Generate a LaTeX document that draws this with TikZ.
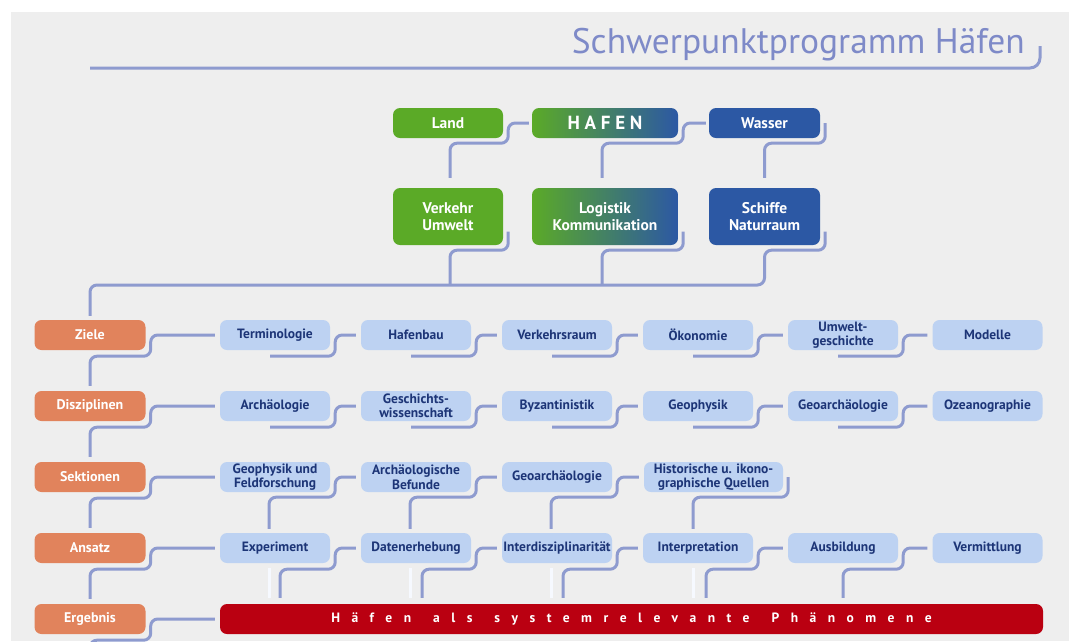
\documentclass[tikz,border=0pt]{standalone}
\usepackage{fontspec}
\setmainfont{PT Sans}
\usepackage{tikz}
\usetikzlibrary{calc}
\usetikzlibrary{positioning}
\definecolor{panel}{HTML}{EEEEEE}
\definecolor{linkcol}{HTML}{8E9BCF}
\definecolor{titlecol}{HTML}{7E8AC8}
\definecolor{orangebox}{HTML}{E1835C}
\definecolor{lightbox}{HTML}{BDD2F2}
\definecolor{navytext}{HTML}{1D3577}
\definecolor{greenbox}{HTML}{5BAA27}
\definecolor{bluebox}{HTML}{2C58A4}
\definecolor{redbar}{HTML}{BA0011}
\definecolor{faint}{HTML}{F6F9FF}
\newcommand{\rowlink}[2]{\draw[Links] ($(#1.south)+(-5,6)$) -- ($(#1.south east)+(5,6)$) -- ($(#1.east)+(5,0)$) -- ($(#2.west)+(-5,0)$)}
\newcommand{\sidelink}[3]{\draw[Links] ($(#2.north)+(0,-5)$) -- ($(#1.south)+(0,6)$) -- ($(#1.south east)+(5,6)$) -- ($(#1.east)+(5,0)$) -- ($(#3.west)+(-5,0)$)}

\begin{document}
\begin{tikzpicture}[
x=1pt,y=-1pt,
RowLabel/.style={fill=orangebox,text=white,rounded corners=7pt,minimum width=111pt,minimum height=30pt,inner sep=0pt,font=\bfseries\fontsize{14}{16}\selectfont},
Topic/.style={fill=lightbox,text=navytext,rounded corners=7pt,minimum width=110pt,minimum height=30pt,inner sep=0pt,align=center,font=\bfseries\fontsize{13.5}{14.5}\selectfont},
HeadBox/.style={text=white,rounded corners=7pt,minimum width=110pt,minimum height=30pt,inner sep=0pt,align=center,font=\bfseries\fontsize{15.5}{17}\selectfont},
Links/.style={draw=linkcol,line width=3pt,rounded corners=7pt},
FaintLinks/.style={draw=faint,line width=3pt}
]
\useasboundingbox (0,0) rectangle (1074,641);
\clip (0,0) rectangle (1074,641);
\fill[white] (0,0) rectangle (1074,641);
\fill[panel] (11,12) rectangle (1069,641);

\node[anchor=base east,inner sep=0pt,text=titlecol,font=\fontsize{35.5}{40}\selectfont] (title) at (1025,53) {Schwerpunktprogramm Häfen};
\coordinate (rulestart) at (90,68);
\coordinate (ruleend) at (1040,46);
\draw[Links,rounded corners=10pt] (rulestart) -| (ruleend);

% head
\node[HeadBox,fill=greenbox] (land) at (448,123) {Land};
\node[HeadBox,left color=greenbox,right color=bluebox,minimum width=146pt,font=\bfseries\fontsize{19}{20}\selectfont\addfontfeature{LetterSpace=25}] (hafen) at (605,123) {HAFEN};
\node[HeadBox,fill=bluebox,minimum width=111pt] (wasser) at (764.5,123) {Wasser};
\node[HeadBox,fill=greenbox,minimum height=57pt] (verkehr) at (448,216.5) {Verkehr\\Umwelt};
\node[HeadBox,left color=greenbox,right color=bluebox,minimum width=146pt,minimum height=57pt] (logistik) at (605,216.5) {Logistik\\Kommunikation};
\node[HeadBox,fill=bluebox,minimum width=111pt,minimum height=57pt] (schiffe) at (764.5,216.5) {Schiffe\\Naturraum};

% left column
\node[RowLabel] (ziele) at (90,335) {Ziele};
\node[RowLabel] (diszi) at (90,406) {Disziplinen};
\node[RowLabel] (sekt) at (90,477) {Sektionen};
\node[RowLabel] (ansatz) at (90,548) {Ansatz};
\node[RowLabel] (ergebnis) at (90,619) {Ergebnis};

% Ziele
\node[Topic] (z1) at (275,335) {Terminologie};
\node[Topic] (z2) at (416,335) {Hafenbau};
\node[Topic] (z3) at (557,335) {Verkehrsraum};
\node[Topic] (z4) at (698,335) {Ökonomie};
\node[Topic] (z5) at (843,335) {Umwelt-\\geschichte};
\node[Topic] (z6) at (987.5,335) {Modelle};

% Disziplinen
\node[Topic] (d1) at (275,406) {Archäologie};
\node[Topic] (d2) at (416,406) {Geschichts-\\wissenschaft};
\node[Topic] (d3) at (557,406) {Byzantinistik};
\node[Topic] (d4) at (698,406) {Geophysik};
\node[Topic] (d5) at (843,406) {Geoarchäologie};
\node[Topic] (d6) at (987.5,406) {Ozeanographie};

% Sektionen
\node[Topic] (s1) at (275,477) {Geophysik und\\Feldforschung};
\node[Topic] (s2) at (416,477) {Archäologische\\Befunde};
\node[Topic] (s3) at (557,477) {Geoarchäologie};
\node[Topic,minimum width=139pt] (s4) at (713.5,477) {Historische u. ikono-\\graphische Quellen};

% Ansatz
\node[Topic] (a1) at (275,548) {Experiment};
\node[Topic] (a2) at (416,548) {Datenerhebung};
\node[Topic] (a3) at (557,548) {Interdisziplinarität};
\node[Topic] (a4) at (698,548) {Interpretation};
\node[Topic] (a5) at (843,548) {Ausbildung};
\node[Topic] (a6) at (987.5,548) {Vermittlung};

\node[fill=redbar,text=white,rounded corners=7pt,minimum width=823pt,minimum height=30pt,inner sep=0pt,font=\bfseries\fontsize{13.5}{16}\selectfont\addfontfeature{LetterSpace=85}] (bar) at (631.5,619) {Häfen\hspace{22pt}als\hspace{22pt}systemrelevante\hspace{22pt}Phänomene};

% links head
\draw[Links] ($(verkehr.north)+(2,-10)$) -- ($(land.south)+(2,5)$) -- ($(land.south east)+(5,5)$) -- ($(land.east)+(5,0)$) -- ($(hafen.west)+(-3,0)$);
\draw[Links] ($(logistik.north)+(-3,-10)$) -- ($(hafen.south)+(-3,5)$) -- ($(hafen.south east)+(5,5)$) -- ($(hafen.east)+(5,0)$) -- ($(wasser.west)+(-3,0)$);
\draw[Links] ($(schiffe.north)+(0,-10)$) -- ($(wasser.south)+(0,5)$) -- ($(wasser.south east)+(5,5)$) -- ($(wasser.east)+(5,0)$);

\coordinate (spine) at (90,285);
\draw[Links] ($(verkehr.east)+(5,15)$) -- ($(verkehr.south east)+(5,5)$) -- ($(verkehr.south)+(2,5)$) -- ($(verkehr.south |- spine)+(2,0)$);
\draw[Links] ($(logistik.east)+(5,15)$) -- ($(logistik.south east)+(5,5)$) -- ($(logistik.south)+(-3,5)$) -- ($(logistik.south |- spine)+(-3,0)$);
\draw[Links] ($(schiffe.east)+(5,15)$) -- ($(schiffe.south east)+(5,5)$) -- ($(schiffe.south)+(0,5)$) -- (schiffe.south |- spine) -- (spine) -- ($(ziele.north)+(0,-4)$);

% links left column
\sidelink{ziele}{diszi}{z1};
\sidelink{diszi}{sekt}{d1};
\sidelink{sekt}{ansatz}{s1};
\sidelink{ansatz}{ergebnis}{a1};
\coordinate (exit) at (90,660);
\draw[Links] (exit) -- ($(ergebnis.south)+(0,6)$) -- ($(ergebnis.south east)+(5,6)$) -- ($(ergebnis.east)+(5,0)$) -- ($(bar.west)+(-5,0)$);

% links rows
\rowlink{z1}{z2}; \rowlink{z2}{z3}; \rowlink{z3}{z4}; \rowlink{z4}{z5}; \rowlink{z5}{z6};
\rowlink{d1}{d2}; \rowlink{d2}{d3}; \rowlink{d3}{d4}; \rowlink{d4}{d5}; \rowlink{d5}{d6};

\draw[Links] ($(a1.north)+(-6,-4)$) -- ($(a1.north |- s1.south)+(-6,5)$) -- ($(s1.south east)+(5,5)$) -- ($(s1.east)+(5,0)$) -- ($(s2.west)+(-5,0)$);
\draw[Links] ($(a2.north)+(-6,-4)$) -- ($(a2.north |- s2.south)+(-6,5)$) -- ($(s2.south east)+(5,5)$) -- ($(s2.east)+(5,0)$) -- ($(s3.west)+(-5,0)$);
\draw[Links] ($(a3.north)+(-6,-4)$) -- ($(a3.north |- s3.south)+(-6,5)$) -- ($(s3.south east)+(5,5)$) -- ($(s3.east)+(5,0)$) -- ($(s4.west)+(-5,0)$);
\draw[Links] ($(a4.north)+(-5,-4)$) -- ($(a4.north |- s4.south)+(-5,5)$) -- ($(s4.south east)+(5,5)$) -- ($(s4.east)+(5,0)$);

\draw[FaintLinks] ($(a1.south)+(-6,5)$) -- ($(a1.south |- bar.north)+(-6,-6)$);
\draw[FaintLinks] ($(a2.south)+(-6,5)$) -- ($(a2.south |- bar.north)+(-6,-6)$);
\draw[FaintLinks] ($(a3.south)+(-6,5)$) -- ($(a3.south |- bar.north)+(-6,-6)$);
\draw[FaintLinks] ($(a4.south)+(-5,5)$) -- ($(a4.south |- bar.north)+(-5,-6)$);

\draw[Links] ($(a1.south |- bar.north)+(5,-6)$) -- ($(a1.south)+(5,6)$) -- ($(a1.south east)+(5,6)$) -- ($(a1.east)+(5,0)$) -- ($(a2.west)+(-5,0)$);
\draw[Links] ($(a2.south |- bar.north)+(6,-6)$) -- ($(a2.south)+(6,6)$) -- ($(a2.south east)+(5,6)$) -- ($(a2.east)+(5,0)$) -- ($(a3.west)+(-5,0)$);
\draw[Links] ($(a3.south |- bar.north)+(6,-6)$) -- ($(a3.south)+(6,6)$) -- ($(a3.south east)+(5,6)$) -- ($(a3.east)+(5,0)$) -- ($(a4.west)+(-5,0)$);
\draw[Links] ($(a4.south |- bar.north)+(8,-6)$) -- ($(a4.south)+(8,6)$) -- ($(a4.south east)+(5,6)$) -- ($(a4.east)+(5,0)$) -- ($(a5.west)+(-5,0)$);
\draw[Links] ($(a5.south |- bar.north)+(0,-6)$) -- ($(a5.south)+(0,6)$) -- ($(a5.south east)+(5,6)$) -- ($(a5.east)+(5,0)$) -- ($(a6.west)+(-5,0)$);

\end{tikzpicture}
\end{document}
